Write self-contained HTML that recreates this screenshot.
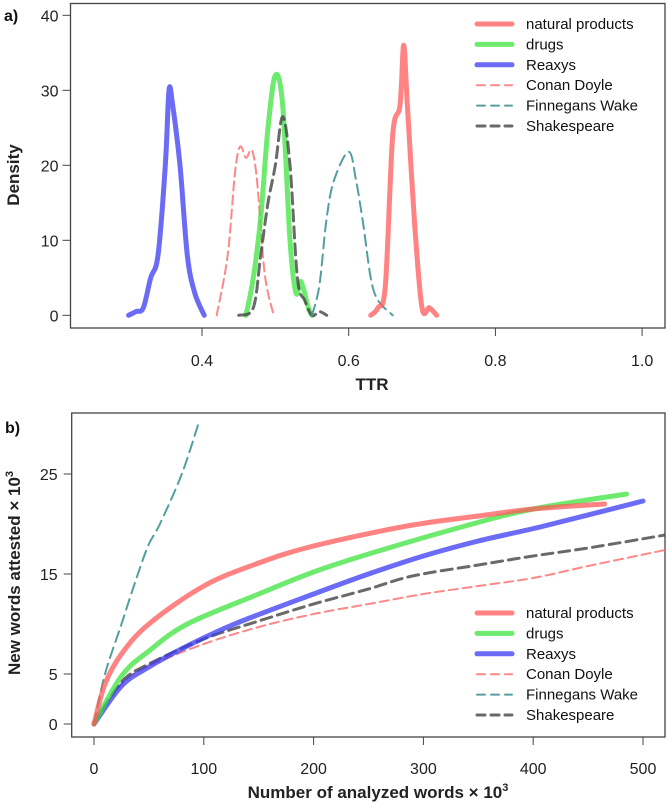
<!DOCTYPE html>
<html><head><meta charset="utf-8"><style>
body{margin:0;background:#fff;}
svg{display:block;font-family:"Liberation Sans",Arial,sans-serif;}
</style></head><body>
<svg id="chart" width="666" height="805" viewBox="0 0 666 805" xmlns="http://www.w3.org/2000/svg"></svg>
<script>
// ---- Panel a data (TTR density) ----
const aTicksX = [0.4, 0.6, 0.8, 1.0];
const aTickLabelsX = ["0.4", "0.6", "0.8", "1.0"];
const aTicksY = [0, 10, 20, 30, 40];
const reaxysX = [0.30,0.31,0.32,0.33,0.34,0.35,0.355,0.36,0.37,0.38,0.39,0.403];
const reaxysY = [0,0.5,1,5,8,20,30,28,20,8,3,0];
const conanX = [0.42,0.435,0.445,0.452,0.46,0.468,0.475,0.485,0.495,0.50];
const conanY = [0,8,19,22.5,21,22,18,6,1,0];
const drugsX = [0.46,0.47,0.48,0.49,0.50,0.51,0.52,0.528,0.535,0.545,0.55];
const drugsY = [0,5,13,25,32,28,10,3,4.5,1,0];
const shakeX = [0.45,0.47,0.48,0.49,0.50,0.51,0.52,0.53,0.54,0.55,0.56,0.57];
const shakeY = [0,1,8,15,20,26.5,20,5,2,0,0.5,0];
const finnX = [0.55,0.56,0.57,0.58,0.60,0.61,0.62,0.63,0.64,0.66];
const finnY = [0,4,13,18,21.8,18,12,5,2,0];
const npX = [0.63,0.64,0.65,0.66,0.67,0.675,0.68,0.69,0.70,0.71,0.72];
const npY = [0,1,4,24,28,36,28,12,1,1,0];
// ---- Panel b data (new words vs analyzed words, x10^3) ----
const bTicksX = [0,100,200,300,400,500];
const bTicksY = [0,5,15,25];
const bNpX = [0,10,25,50,100,150,200,285,350,400,465];
const bNpY = [0,4,7,10,13.8,16.1,17.8,19.8,20.8,21.5,22];
const bDrugsX = [0,25,50,85,150,200,250,338,400,485];
const bDrugsY = [0,4.8,7.3,10,13,15.2,17,19.8,21.5,23];
const bReaxysX = [0,25,50,85,128,200,250,300,350,410,500];
const bReaxysY = [0,3.8,5.7,7.8,10,13,15,16.8,18.3,19.8,22.3];
const bShakeX = [0,25,50,100,150,200,250,290,350,400,450,520];
const bShakeY = [0,4.2,6,8.5,10.3,12,13.5,14.8,15.9,16.8,17.6,18.9];
const bConanX = [0,25,50,100,150,200,250,300,350,400,450,520];
const bConanY = [0,4,5.8,8,9.7,11,12,13,13.8,14.6,15.8,17.4];
const bFinnX = [0,10,25,40,50,60,80,95];
const bFinnY = [0,5,10,15,18,20,25,30];

const legendNames = ["natural products","drugs","Reaxys","Conan Doyle","Finnegans Wake","Shakespeare"];

const NS="http://www.w3.org/2000/svg";
const svg=document.getElementById('chart');
function mk(tag,attrs,parent){const e=document.createElementNS(NS,tag);for(const k in attrs)e.setAttribute(k,attrs[k]);(parent||svg).appendChild(e);return e;}
function txt(s,attrs,parent){const e=mk('text',attrs,parent);e.textContent=s;return e;}

const styles={
 np:{stroke:"#ff5a5a",w:5,op:0.75,dash:""},
 drugs:{stroke:"#3ee33e",w:5,op:0.75,dash:""},
 reaxys:{stroke:"#3a3af2",w:5,op:0.75,dash:""},
 conan:{stroke:"#ff7a7a",w:2,op:0.9,dash:"9,5"},
 finn:{stroke:"#4a9a9a",w:2,op:0.95,dash:"11,6"},
 shake:{stroke:"#444",w:3,op:0.8,dash:"11,6"}
};
const order=["np","drugs","reaxys","conan","finn","shake"];

function smoothPath(pts){
 let d="M"+pts[0][0].toFixed(1)+","+pts[0][1].toFixed(1);
 for(let i=0;i<pts.length-1;i++){
  const p0=pts[Math.max(i-1,0)],p1=pts[i],p2=pts[i+1],p3=pts[Math.min(i+2,pts.length-1)];
  const c1=[p1[0]+(p2[0]-p0[0])/6,p1[1]+(p2[1]-p0[1])/6];
  const c2=[p2[0]-(p3[0]-p1[0])/6,p2[1]-(p3[1]-p1[1])/6];
  d+=" C"+c1[0].toFixed(1)+","+c1[1].toFixed(1)+" "+c2[0].toFixed(1)+","+c2[1].toFixed(1)+" "+p2[0].toFixed(1)+","+p2[1].toFixed(1);
 }
 return d;
}
function drawSeries(g,xs,ys,sx,sy,key,name){
 const s=styles[key];
 const pts=xs.map((x,i)=>[sx(x),sy(ys[i])]);
 const p=mk('path',{d:smoothPath(pts),fill:"none",stroke:s.stroke,"stroke-width":s.w,"stroke-opacity":s.op,"stroke-linecap":"round","stroke-linejoin":"round","stroke-dasharray":s.dash},g);
 
 
}
function legend(g,y0){
 order.forEach((k,i)=>{
  const s=styles[k];const y=y0+i*20.4;
  const ent=mk('g',{},g);
  
  
  mk('line',{x1:477,x2:512,y1:y,y2:y,stroke:s.stroke,"stroke-width":s.w,"stroke-opacity":s.op,"stroke-linecap":"round","stroke-dasharray":s.dash?"8,6":""},ent);
  txt(legendNames[i],{x:526,y:y+5,"font-size":15,fill:"#111"},ent);
 });
}

// ===== Panel a =====
const ga=mk('g',{});


const axL=70.5,axR=665,axT=3.5,axB=328;
const sxA=v=>202+(v-0.4)*733.5;
const syA=v=>315.3-v*7.5;
mk('rect',{x:axL,y:axT,width:axR-axL,height:axB-axT,fill:"none",stroke:"#444","stroke-width":1.3},ga);
const yaxA=mk('g',{},ga);


aTicksY.forEach(t=>{const y=syA(t);mk('line',{x1:axL-8,x2:axL,y1:y,y2:y,stroke:"#444"},yaxA);txt(String(t),{x:axL-12,y:y+6,"font-size":16,"text-anchor":"end",fill:"#222"},yaxA);});
const xaxA=mk('g',{},ga);


aTicksX.forEach((t,i)=>{const x=sxA(t);mk('line',{x1:x,x2:x,y1:axB,y2:axB+8,stroke:"#444"},xaxA);txt(aTickLabelsX[i],{x:x,y:366,"font-size":16,"text-anchor":"middle",fill:"#222"},xaxA);});
const tA=txt("TTR",{x:372,y:390,"font-size":17,"font-weight":"bold","text-anchor":"middle",fill:"#222"},ga);

const dA=txt("Density",{x:0,y:0,"font-size":17,"font-weight":"bold","text-anchor":"middle",fill:"#222",transform:"translate(19,175) rotate(-90)"},ga);

const la=txt("a)",{x:4,y:21,"font-size":16,"font-weight":"bold",fill:"#111"},ga);

drawSeries(ga,reaxysX,reaxysY,sxA,syA,"reaxys","density-reaxys");
drawSeries(ga,conanX,conanY,sxA,syA,"conan","density-conan-doyle");
drawSeries(ga,drugsX,drugsY,sxA,syA,"drugs","density-drugs");
drawSeries(ga,shakeX,shakeY,sxA,syA,"shake","density-shakespeare");
drawSeries(ga,finnX,finnY,sxA,syA,"finn","density-finnegans-wake");
drawSeries(ga,npX,npY,sxA,syA,"np","density-natural-products");
const lgA=mk('g',{},ga);


legend(lgA,24);

// ===== Panel b =====
const gb=mk('g',{});


const bL=71.7,bR=665,bT=413,bB=737;
const sxB=v=>94+v*1.098;
const syB=v=>724-v*10;
const cp=mk('clipPath',{id:"clipb"},gb);
mk('rect',{x:bL,y:bT,width:bR-bL,height:bB-bT},cp);
mk('rect',{x:bL,y:bT,width:bR-bL,height:bB-bT,fill:"none",stroke:"#444","stroke-width":1.3},gb);
const yaxB=mk('g',{},gb);


bTicksY.forEach(t=>{const y=syB(t);mk('line',{x1:bL-8,x2:bL,y1:y,y2:y,stroke:"#444"},yaxB);txt(String(t),{x:bL-14,y:y+6,"font-size":16,"text-anchor":"end",fill:"#222"},yaxB);});
const xaxB=mk('g',{},gb);


bTicksX.forEach(t=>{const x=sxB(t);mk('line',{x1:x,x2:x,y1:bB,y2:bB+8,stroke:"#444"},xaxB);txt(String(t),{x:x,y:774,"font-size":16,"text-anchor":"middle",fill:"#222"},xaxB);});
const tB=mk('text',{x:378,y:798,"font-size":17,"font-weight":"bold","text-anchor":"middle",fill:"#222"},gb);

tB.innerHTML='Number of analyzed words × 10<tspan dy="-7" font-size="11">3</tspan>';
const yB=mk('text',{x:0,y:0,"font-size":17,"font-weight":"bold","text-anchor":"middle",fill:"#222",transform:"translate(20,573) rotate(-90)"},gb);

yB.innerHTML='New words attested × 10<tspan dy="-7" font-size="11">3</tspan>';
const lb=txt("b)",{x:5,y:433,"font-size":16,"font-weight":"bold",fill:"#111"},gb);

const series=mk('g',{"clip-path":"url(#clipb)"},gb);


drawSeries(series,bFinnX,bFinnY,sxB,syB,"finn","curve-finnegans-wake");
drawSeries(series,bConanX,bConanY,sxB,syB,"conan","curve-conan-doyle");
drawSeries(series,bShakeX,bShakeY,sxB,syB,"shake","curve-shakespeare");
drawSeries(series,bReaxysX,bReaxysY,sxB,syB,"reaxys","curve-reaxys");
drawSeries(series,bDrugsX,bDrugsY,sxB,syB,"drugs","curve-drugs");
drawSeries(series,bNpX,bNpY,sxB,syB,"np","curve-natural-products");
const lgB=mk('g',{},gb);


legend(lgB,613);
</script>
</body></html>
